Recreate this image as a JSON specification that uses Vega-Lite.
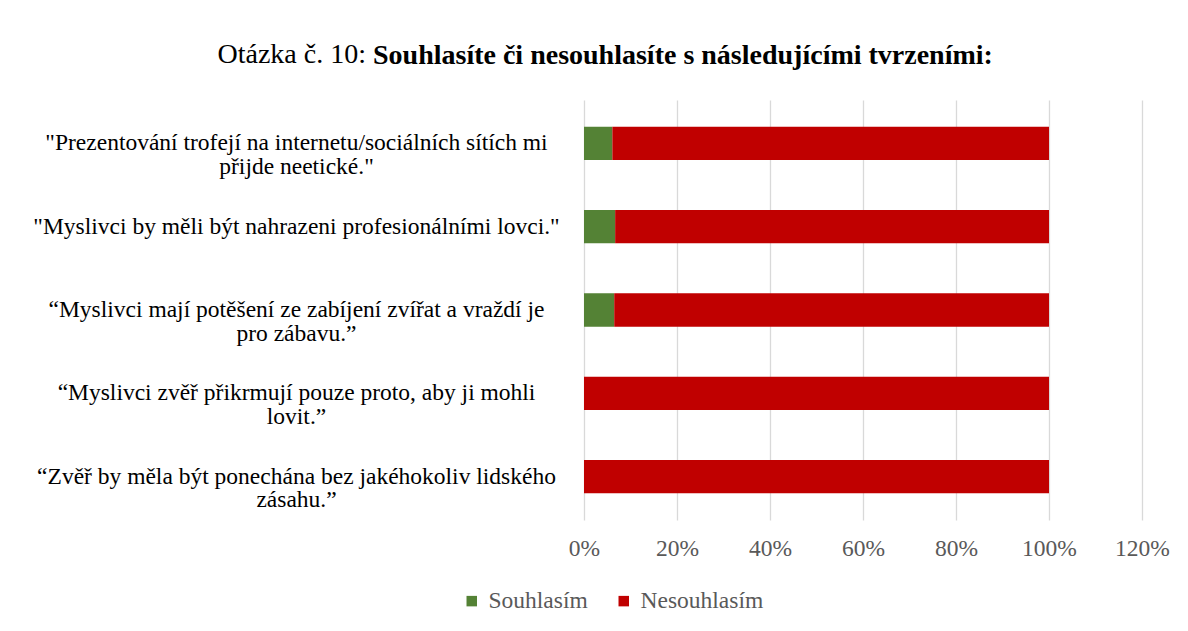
{
  "$schema": "https://vega.github.io/schema/vega-lite/v6.json",
  "width": 558,
  "height": 420,
  "autosize": {"type": "none"},
  "padding": {"left": 584, "top": 100, "right": 46, "bottom": 111},
  "background": "white",
  "title": {
    "text": "Souhlasíte či nesouhlasíte s následujícími tvrzeními:",
    "font": "Liberation Serif",
    "fontSize": 28,
    "fontWeight": "bold",
    "color": "#000000",
    "anchor": "start",
    "frame": "group",
    "dx": -211,
    "offset": -52,
    "baseline": "alphabetic"
  },
  "data": {
    "values": [
      {"statement": "\"Prezentování trofejí na internetu/sociálních sítích mi|přijde neetické.\"", "response": "Souhlasím", "ord": 1, "value": 0.061},
      {"statement": "\"Prezentování trofejí na internetu/sociálních sítích mi|přijde neetické.\"", "response": "Nesouhlasím", "ord": 2, "value": 0.939},
      {"statement": "\"Myslivci by měli být nahrazeni profesionálními lovci.\"", "response": "Souhlasím", "ord": 1, "value": 0.067},
      {"statement": "\"Myslivci by měli být nahrazeni profesionálními lovci.\"", "response": "Nesouhlasím", "ord": 2, "value": 0.933},
      {"statement": "“Myslivci mají potěšení ze zabíjení zvířat a vraždí je|pro zábavu.”", "response": "Souhlasím", "ord": 1, "value": 0.065},
      {"statement": "“Myslivci mají potěšení ze zabíjení zvířat a vraždí je|pro zábavu.”", "response": "Nesouhlasím", "ord": 2, "value": 0.935},
      {"statement": "“Myslivci zvěř přikrmují pouze proto, aby ji mohli|lovit.”", "response": "Souhlasím", "ord": 1, "value": 0},
      {"statement": "“Myslivci zvěř přikrmují pouze proto, aby ji mohli|lovit.”", "response": "Nesouhlasím", "ord": 2, "value": 1},
      {"statement": "“Zvěř by měla být ponechána bez jakéhokoliv lidského|zásahu.”", "response": "Souhlasím", "ord": 1, "value": 0},
      {"statement": "“Zvěř by měla být ponechána bez jakéhokoliv lidského|zásahu.”", "response": "Nesouhlasím", "ord": 2, "value": 1}
    ]
  },
  "mark": {"type": "bar"},
  "encoding": {
    "y": {
      "field": "statement",
      "type": "nominal",
      "sort": null,
      "scale": {"paddingInner": 0.6, "paddingOuter": 0.32},
      "axis": {
        "title": "Otázka č. 10:",
        "titleFont": "Liberation Serif",
        "titleFontSize": 28,
        "titleFontWeight": "normal",
        "titleColor": "#000000",
        "titleAngle": 0,
        "titleAlign": "left",
        "titleBaseline": "alphabetic",
        "titleX": -367,
        "titleY": -38,
        "labelExpr": "split(datum.label, '|')",
        "labelFont": "Liberation Serif",
        "labelFontSize": 23.5,
        "labelColor": "#000000",
        "labelAlign": "center",
        "labelBaseline": "middle",
        "labelLineHeight": 23.5,
        "labelLimit": 0,
        "labelPadding": 288,
        "ticks": false,
        "tickSize": 0,
        "domain": false,
        "grid": false
      }
    },
    "x": {
      "field": "value",
      "type": "quantitative",
      "stack": "zero",
      "scale": {"domain": [0, 1.2], "nice": false, "zero": true},
      "axis": {
        "title": null,
        "values": [0, 0.2, 0.4, 0.6, 0.8, 1.0, 1.2],
        "format": ".0%",
        "labelFont": "Liberation Serif",
        "labelFontSize": 23.5,
        "labelColor": "#595959",
        "labelPadding": 16,
        "labelFlush": false,
        "labelOverlap": false,
        "ticks": false,
        "domain": false,
        "grid": true,
        "gridColor": "#d9d9d9",
        "gridWidth": 1.3
      }
    },
    "color": {
      "field": "response",
      "type": "nominal",
      "scale": {"domain": ["Souhlasím", "Nesouhlasím"], "range": ["#548235", "#c00000"]},
      "legend": {
        "title": null,
        "orient": "none",
        "direction": "horizontal",
        "legendX": -124,
        "legendY": 489,
        "symbolType": "square",
        "symbolSize": 110,
        "symbolStrokeWidth": 0,
        "labelFont": "Liberation Serif",
        "labelFontSize": 23.5,
        "labelColor": "#595959",
        "columnPadding": 24,
        "labelOffset": 5
      }
    },
    "order": {"field": "ord", "type": "quantitative"}
  },
  "config": {
    "view": {"stroke": null}
  }
}
